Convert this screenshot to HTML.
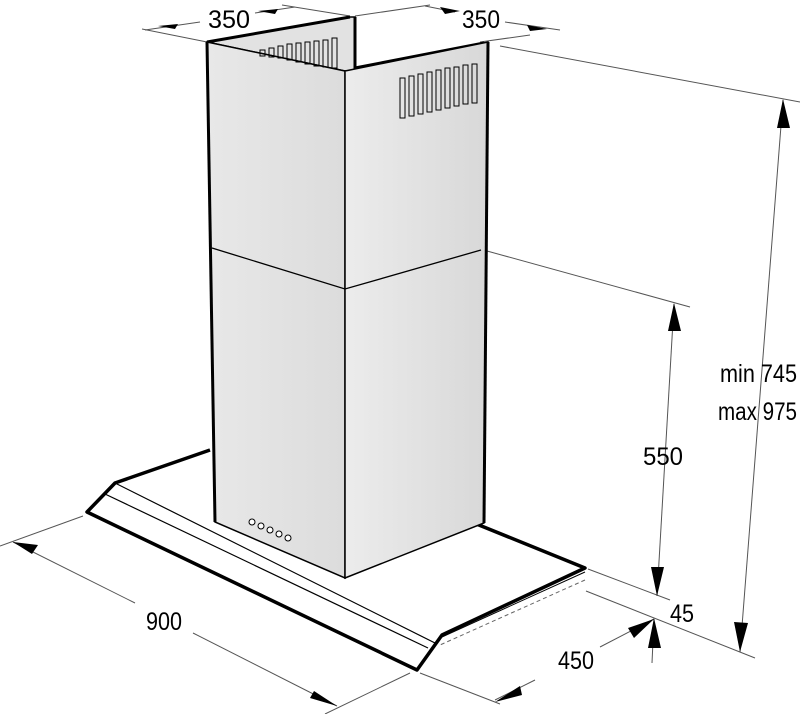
<!DOCTYPE html>
<html><head><meta charset="utf-8"><style>
html,body{margin:0;padding:0;background:#fff;width:800px;height:714px;overflow:hidden}
text{font-family:"Liberation Sans",sans-serif;font-size:25px;fill:#000}
</style></head><body>
<svg width="800" height="714" viewBox="0 0 800 714" xmlns="http://www.w3.org/2000/svg">
<defs>
<linearGradient id="g1" x1="0" x2="1"><stop offset="0" stop-color="#e8e8e8"/><stop offset="1" stop-color="#dcdcdc"/></linearGradient>
<linearGradient id="g2" x1="0" x2="1"><stop offset="0" stop-color="#ececec"/><stop offset="1" stop-color="#d8d8d8"/></linearGradient>
</defs>
<g stroke="#555" stroke-width="1" fill="none">
<line x1="500" y1="46" x2="800" y2="102"/>
<line x1="487" y1="251" x2="690" y2="307"/>
<line x1="588" y1="569" x2="670" y2="600"/>
<line x1="586" y1="591" x2="755" y2="658"/>
<line x1="83" y1="516" x2="0" y2="546"/>
<line x1="410" y1="673" x2="325" y2="714"/>
<line x1="420" y1="673" x2="500" y2="704"/>
<line x1="142" y1="29" x2="207" y2="42"/>
<line x1="350" y1="16" x2="282" y2="5"/>
<line x1="355" y1="16" x2="430" y2="5"/>
<line x1="480" y1="42" x2="530" y2="35"/>
<line x1="145" y1="30" x2="200" y2="22"/>
<line x1="255" y1="13" x2="295" y2="7"/>
<line x1="425" y1="6" x2="455" y2="12"/>
<line x1="505" y1="22" x2="560" y2="30"/>
<line x1="783" y1="100" x2="740" y2="652"/>
<line x1="674" y1="304" x2="657" y2="596"/>
<line x1="654" y1="619" x2="652" y2="663"/>
<line x1="600" y1="647" x2="654" y2="619"/>
<line x1="13" y1="542" x2="135" y2="603"/>
<line x1="193" y1="633" x2="337" y2="706"/>
<line x1="495" y1="700" x2="535" y2="680"/>
</g>
<line x1="585" y1="580" x2="440" y2="645" stroke="#666" stroke-dasharray="4,3"/>
<g fill="#000">
<polygon points="783,99 777,128 790,128"/>
<polygon points="740,652 734,622 748,623"/>
<polygon points="674,303 668,331 681,331"/>
<polygon points="657,596 651,567 664,567"/>
<polygon points="654,618 648,648 661,648"/>
<polygon points="654,619 628,628 634,638"/>
<polygon points="13,542 38,545 32,554"/>
<polygon points="337,706 310,698 314,691"/>
<polygon points="495,702 520,686 522,695"/>
<polygon points="178,24 158,26 175,29"/>
<polygon points="278,9 258,11 275,14"/>
<polygon points="440,7 460,11 445,14"/>
<polygon points="547,29 527,25 530,31"/>
</g>
<polygon points="210,450 115,483 87,512 417,670 442,635 585,568 474,523" fill="#fff" stroke="none"/>
<polyline points="210,450 115,483 87,512 417,670 442,635 585,568 474,523" fill="none" stroke="#000" stroke-width="3.5" stroke-linejoin="round"/>
<line x1="115" y1="483" x2="435" y2="643" stroke="#000" stroke-width="1.2"/>
<line x1="105" y1="494" x2="428" y2="648" stroke="#000" stroke-width="1.2"/>
<line x1="442" y1="637" x2="585" y2="572" stroke="#000" stroke-width="1"/>
<polygon points="207,42 348,17 355,17 355,71 345,71" fill="#e2e2e2" stroke="#000" stroke-width="1.5"/>
<line x1="207" y1="42" x2="350" y2="17" stroke="#000" stroke-width="3"/>
<line x1="355" y1="17" x2="355" y2="70" stroke="#000" stroke-width="3"/>
<line x1="355" y1="68" x2="484" y2="43" stroke="#000" stroke-width="3"/>
<polygon points="207,42 345,71 345,578 215,522" fill="url(#g1)" stroke="#000" stroke-width="1.5"/>
<polygon points="345,71 488,42 484,523 345,578" fill="url(#g2)" stroke="#000" stroke-width="1.5"/>
<line x1="207" y1="42" x2="215" y2="522" stroke="#000" stroke-width="3"/>
<line x1="488" y1="42" x2="484" y2="523" stroke="#000" stroke-width="3"/>
<polyline points="212,248 345,289 481,250" fill="none" stroke="#000" stroke-width="1.3"/>
<g fill="none" stroke="#000" stroke-width="1">
<rect x="400" y="78" width="5" height="40"/><rect x="409" y="76" width="5" height="40"/><rect x="418" y="74" width="5" height="40"/><rect x="427" y="72" width="5" height="40"/><rect x="436" y="70" width="5" height="40"/><rect x="445" y="68" width="5" height="40"/><rect x="454" y="67" width="5" height="39"/><rect x="463" y="65" width="5" height="39"/><rect x="472" y="64" width="5" height="39"/>
<rect x="260" y="50" width="5" height="6"/><rect x="269" y="48" width="5" height="9"/><rect x="278" y="46" width="5" height="12"/><rect x="287" y="44" width="5" height="16"/><rect x="296" y="43" width="5" height="19"/><rect x="305" y="42" width="5" height="22"/><rect x="314" y="41" width="5" height="25"/><rect x="323" y="40" width="5" height="27"/><rect x="332" y="38" width="5" height="30"/>
</g>
<g fill="#fff" stroke="#000" stroke-width="1">
<circle cx="252" cy="522" r="3"/><circle cx="261" cy="526" r="3"/><circle cx="270" cy="530" r="3"/><circle cx="279" cy="534" r="3"/><circle cx="288" cy="538" r="3"/>
</g>
<text x="208" y="28" textLength="42" lengthAdjust="spacingAndGlyphs">350</text>
<text x="462" y="28" textLength="38" lengthAdjust="spacingAndGlyphs">350</text>
<text x="643" y="465" textLength="40" lengthAdjust="spacingAndGlyphs">550</text>
<text x="720" y="382" textLength="77" lengthAdjust="spacingAndGlyphs">min 745</text>
<text x="718" y="420" textLength="79" lengthAdjust="spacingAndGlyphs">max 975</text>
<text x="670" y="622" textLength="24" lengthAdjust="spacingAndGlyphs">45</text>
<text x="558" y="669" textLength="36" lengthAdjust="spacingAndGlyphs">450</text>
<text x="146" y="630" textLength="36" lengthAdjust="spacingAndGlyphs">900</text>
</svg>
</body></html>
